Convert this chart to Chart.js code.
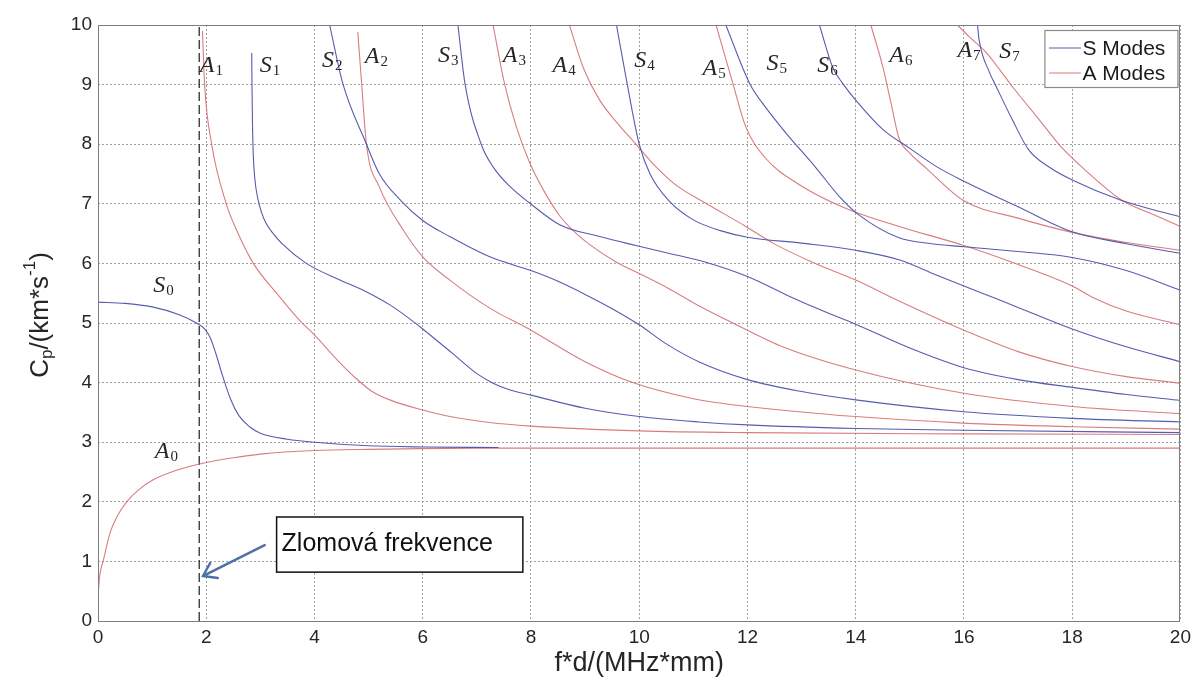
<!DOCTYPE html>
<html>
<head>
<meta charset="utf-8">
<script src="https://cdn.jsdelivr.net/npm/chart.js@4.4.1/dist/chart.umd.min.js"></script>
<style>
html,body{margin:0;padding:0;background:#ffffff;}
#wrap{width:1196px;height:684px;}
</style>
</head>
<body>
<div id="wrap"><canvas id="c" width="1196" height="684"></canvas></div>
<script>
// ---------- data (f*d in MHz*mm, phase velocity in km/s) ----------
const xTickStep = 2;
const yTickStep = 1;

const A0 = [[0,0.4],[0.03,0.75],[0.1,1.02],[0.22,1.47],[0.35,1.75],[0.53,2.0],[0.75,2.2],[1.02,2.37],[1.45,2.53],[2,2.66],[2.5,2.74],[3,2.8],[4,2.86],[5,2.88],[7,2.9],[20,2.9]];
const S0 = [[0,5.35],[0.5,5.33],[1,5.27],[1.5,5.14],[1.8,5.01],[1.97,4.9],[2.08,4.74],[2.18,4.48],[2.3,4.12],[2.45,3.72],[2.6,3.45],[2.8,3.26],[3,3.15],[3.5,3.05],[4,3.0],[5,2.94],[6,2.92],[7.4,2.91]];
const A1 = [[1.93,9.9],[1.97,9.0],[2.1,8.0],[2.37,7.0],[2.56,6.56],[2.87,6.0],[3.3,5.5],[3.72,5.05],[4.0,4.8],[4.4,4.4],[4.78,4.06],[5.05,3.86],[5.39,3.71],[6.0,3.54],[6.5,3.43],[7.23,3.33],[8,3.27],[10,3.19],[12,3.16],[16,3.14],[20,3.13]];
const S1 = [[2.84,9.53],[2.845,9.0],[2.855,8.3],[2.87,7.8],[2.9,7.4],[2.95,7.1],[3.02,6.86],[3.1,6.68],[3.22,6.52],[3.4,6.33],[3.85,6.0],[4.47,5.72],[4.9,5.55],[5.4,5.3],[5.76,5.07],[6.0,4.9],[6.55,4.49],[7.0,4.15],[7.3,3.99],[7.6,3.88],[8,3.79],[9,3.57],[10,3.43],[11.1,3.34],[12,3.29],[14,3.23],[16,3.2],[20,3.16]];
const A2 = [[4.8,9.88],[4.87,9.03],[4.96,8.0],[5.2,7.28],[5.64,6.56],[6.0,6.11],[6.5,5.72],[7.24,5.25],[8,4.88],[9,4.35],[9.88,4.0],[11,3.73],[12,3.6],[14,3.43],[16,3.32],[18,3.26],[20,3.22]];
const S2 = [[4.28,10],[4.52,9.03],[4.96,8.0],[5.2,7.5],[5.6,7.05],[6.0,6.72],[6.5,6.45],[7.24,6.11],[8,5.88],[8.5,5.7],[9,5.48],[9.5,5.24],[10,4.97],[10.5,4.65],[11.1,4.35],[12,4.05],[13,3.85],[14,3.71],[16,3.51],[18,3.4],[20,3.34]];
const A3 = [[7.3,10],[7.51,9.02],[7.73,8.29],[7.98,7.68],[8.25,7.2],[8.53,6.8],[8.77,6.56],[9.08,6.32],[9.58,6.02],[10,5.83],[10.5,5.6],[11.1,5.29],[11.73,5.0],[12.65,4.6],[14,4.21],[16,3.82],[18,3.6],[20,3.48]];
const S3 = [[6.65,10],[6.78,9.02],[7.08,8.0],[7.3,7.62],[7.6,7.3],[7.98,7.01],[8.53,6.65],[9.27,6.45],[9.94,6.3],[10.5,6.18],[11.23,6.02],[12,5.78],[12.77,5.45],[13.4,5.2],[14,4.98],[15,4.58],[16,4.25],[17,4.05],[18,3.92],[19,3.8],[20,3.7]];
const A4 = [[8.71,10],[8.96,9.3],[9.27,8.74],[9.6,8.35],[9.94,8.0],[10.31,7.62],[10.7,7.3],[11.23,7.01],[11.97,6.62],[12.47,6.34],[13.2,6.02],[14,5.72],[14.8,5.37],[16,4.88],[17,4.52],[18,4.27],[19,4.1],[20,3.99]];
const S4 = [[9.58,10],[9.78,9.0],[10.0,8.0],[10.2,7.5],[10.56,7.04],[11.0,6.73],[11.5,6.55],[12,6.44],[13,6.34],[14,6.22],[14.8,6.06],[15.5,5.8],[16,5.62],[16.65,5.39],[17.3,5.15],[18,4.9],[19,4.6],[20,4.35]];
const A5 = [[11.42,10],[11.73,9.02],[11.97,8.29],[12.34,7.76],[12.96,7.32],[13.8,6.93],[14.8,6.62],[16,6.3],[17,5.98],[18,5.62],[18.4,5.42],[19,5.2],[20,4.97]];
const S5 = [[11.6,10],[12.04,9.02],[12.35,8.6],[12.7,8.2],[13.27,7.6],[13.7,7.12],[14.02,6.84],[14.8,6.43],[15.4,6.33],[16,6.28],[17,6.2],[18,6.1],[19,5.88],[20,5.55]];
const A6 = [[14.28,10],[14.5,9.3],[14.65,8.7],[14.8,8.1],[15.0,7.85],[15.3,7.6],[16,7.05],[17,6.76],[18,6.52],[19,6.35],[20,6.22]];
const S6 = [[13.33,10],[13.57,9.3],[13.76,9.02],[14,8.74],[14.5,8.25],[15,7.93],[15.5,7.62],[16,7.38],[17,6.95],[18,6.53],[19,6.33],[20,6.17]];
const A7 = [[15.88,10],[16.1,9.8],[16.4,9.55],[16.9,8.96],[17.4,8.4],[17.8,7.95],[18.2,7.6],[18.92,7.06],[19.5,6.82],[20,6.62]];
const S7 = [[16.25,10],[16.28,9.75],[16.47,9.21],[16.6,8.96],[16.9,8.4],[17.2,7.9],[17.6,7.6],[18,7.4],[18.9,7.06],[19.5,6.9],[20,6.78]];

const sModes = [S0,S1,S2,S3,S4,S5,S6,S7];
const aModes = [A0,A1,A2,A3,A4,A5,A6,A7];

// cut-off frequency marker
const cutoffFreq = 1.87;

// mode labels: letter, index, f*d, Cp  (text anchor = baseline-left)
const modeLabelText = ['A','1','S','1','S','2','A','2','S','3','A','3','A','4','S','4','A','5','S','5','S','6','A','6','A','7','S','7','S','0','A','0'];
const modeLabelX = [1.88,2.99,4.14,4.93,6.28,7.48,8.40,9.91,11.17,12.35,13.29,14.62,15.88,16.65,1.02,1.05];
const modeLabelY = [9.21,9.21,9.30,9.36,9.38,9.38,9.21,9.30,9.16,9.24,9.21,9.38,9.46,9.45,5.52,2.73];

// annotation "Zlomová frekvence"
const noteText = 'Zlomová frekvence';
const noteBox = [3.30, 1.745, 7.85, 0.82];   // x1, y1, x2, y2
const noteArrow = [3.08, 1.275, 1.94, 0.755]; // from (x,y) to tip (x,y)

const legendNames = ['S Modes','A Modes'];

// ---------- styles ----------
const BLUE = 'rgba(72,78,168,0.92)';
const RED = 'rgba(214,110,112,0.9)';
const FONT = '"Liberation Sans", Arial, Helvetica, sans-serif';

function toPts(arr){ return arr.map(p => ({x:p[0], y:p[1]})); }

const datasets = [];
sModes.forEach((m,i) => datasets.push({label:'S'+i, data:toPts(m), borderColor:BLUE}));
aModes.forEach((m,i) => datasets.push({label:'A'+i, data:toPts(m), borderColor:RED}));
datasets.forEach(d => Object.assign(d, {showLine:true, pointRadius:0, borderWidth:1.1, cubicInterpolationMode:'monotone', fill:false}));
datasets.push({label:'cutoff', data:[{x:cutoffFreq,y:0},{x:cutoffFreq,y:10}], showLine:true, pointRadius:0, borderColor:'#1a1a1a', borderWidth:1.2, borderDash:[9,4]});

const overlay = {
  id:'overlay',
  afterDatasetsDraw(chart){
    const {ctx, chartArea:a, scales:{x,y}} = chart;
    ctx.save();
    // plot frame
    ctx.strokeStyle = '#7d7d7d'; ctx.lineWidth = 1;
    ctx.strokeRect(Math.round(a.left)+0.5, Math.round(a.top)+0.5, Math.round(a.right-a.left)-1, Math.round(a.bottom-a.top));

    // mode labels
    ctx.fillStyle = '#262626'; ctx.textBaseline = 'alphabetic'; ctx.textAlign = 'left';
    for (let i=0;i<modeLabelX.length;i++){
      const px = x.getPixelForValue(modeLabelX[i]);
      const py = y.getPixelForValue(modeLabelY[i]);
      ctx.font = 'italic 24px "Liberation Serif", "DejaVu Serif", serif';
      const L = modeLabelText[2*i];
      ctx.fillText(L, px, py);
      const w = ctx.measureText(L).width;
      ctx.font = '15px "Liberation Serif", "DejaVu Serif", serif';
      ctx.fillText(modeLabelText[2*i+1], px + w + 1, py + 3);
    }

    // annotation box
    const bx1 = x.getPixelForValue(noteBox[0]), by1 = y.getPixelForValue(noteBox[1]);
    const bx2 = x.getPixelForValue(noteBox[2]), by2 = y.getPixelForValue(noteBox[3]);
    ctx.fillStyle = '#ffffff';
    ctx.fillRect(bx1, by1, bx2-bx1, by2-by1);
    ctx.strokeStyle = '#111'; ctx.lineWidth = 1.5;
    ctx.strokeRect(bx1, by1, bx2-bx1, by2-by1);
    ctx.fillStyle = '#111'; ctx.font = '25px ' + FONT; ctx.textBaseline = 'middle';
    ctx.fillText(noteText, bx1 + 5, (by1+by2)/2);

    // arrow
    const ax1 = x.getPixelForValue(noteArrow[0]), ay1 = y.getPixelForValue(noteArrow[1]);
    const ax2 = x.getPixelForValue(noteArrow[2]), ay2 = y.getPixelForValue(noteArrow[3]);
    const ang = Math.atan2(ay2-ay1, ax2-ax1);
    ctx.strokeStyle = '#4f70a6'; ctx.lineWidth = 2.5; ctx.lineCap = 'round'; ctx.lineJoin = 'miter';
    ctx.beginPath(); ctx.moveTo(ax1, ay1); ctx.lineTo(ax2 - 2*Math.cos(ang), ay2 - 2*Math.sin(ang)); ctx.stroke();
    ctx.lineWidth = 2.4;
    ctx.beginPath();
    ctx.moveTo(ax2 - 15*Math.cos(ang-0.6), ay2 - 15*Math.sin(ang-0.6));
    ctx.lineTo(ax2, ay2);
    ctx.lineTo(ax2 - 15*Math.cos(ang+0.6), ay2 - 15*Math.sin(ang+0.6));
    ctx.stroke();

    // legend
    const lw = 133, lh = 57;
    const lx = a.right - 136, ly = a.top + 5;
    ctx.fillStyle = '#ffffff'; ctx.fillRect(lx, ly, lw, lh);
    ctx.strokeStyle = '#8a8a8a'; ctx.lineWidth = 1.2; ctx.strokeRect(lx+0.5, ly+0.5, lw, lh);
    const cols = [BLUE, RED];
    ctx.font = '21px ' + FONT; ctx.textBaseline = 'middle'; ctx.fillStyle = '#1a1a1a';
    for (let i=0;i<2;i++){
      const yy = ly + 18 + i*25;
      ctx.strokeStyle = cols[i]; ctx.lineWidth = 1.2;
      ctx.beginPath(); ctx.moveTo(lx+5, yy); ctx.lineTo(lx+36, yy); ctx.stroke();
      ctx.fillStyle = '#1a1a1a';
      ctx.fillText(legendNames[i], lx+38, yy+1);
    }

    // y axis title with subscript / superscript
    const cy = (a.top + a.bottom)/2 - 8;
    const cx = a.left - 57;
    ctx.translate(cx, cy);
    ctx.rotate(-Math.PI/2);
    const parts = [['C',26,0],['p',17,6],['/(km*s',26,0],['-1',17,-11],[')',26,0]];
    let total = 0;
    parts.forEach(p => { ctx.font = p[1]+'px '+FONT; total += ctx.measureText(p[0]).width; });
    let pos = -total/2;
    ctx.fillStyle = '#262626'; ctx.textBaseline = 'middle';
    parts.forEach(p => { ctx.font = p[1]+'px '+FONT; ctx.fillText(p[0], pos, p[2]); pos += ctx.measureText(p[0]).width; });
    ctx.restore();
  }
};

new Chart(document.getElementById('c'), {
  type:'scatter',
  data:{datasets},
  options:{
    responsive:false,
    animation:false,
    devicePixelRatio:1,
    layout:{padding:{top:25,right:15,left:0,bottom:0}},
    plugins:{legend:{display:false}, tooltip:{enabled:false}},
    scales:{
      x:{
        type:'linear', min:0, max:20,
        afterFit(s){ s.height = 63; },
        ticks:{stepSize:xTickStep, color:'#262626', font:{family:FONT, size:19}, padding:5, maxRotation:0},
        grid:{color:'#a0a0a0', lineWidth:1, drawTicks:false},
        border:{display:false, dash:[2,2]},
        title:{display:true, text:'f*d/(MHz*mm)', color:'#262626', font:{family:FONT, size:27}, padding:{top:0,bottom:4}}
      },
      y:{
        type:'linear', min:0, max:10,
        afterFit(s){ s.width = 98; },
        ticks:{stepSize:yTickStep, color:'#262626', font:{family:FONT, size:19}, padding:6},
        grid:{color:'#a0a0a0', lineWidth:1, drawTicks:false},
        border:{display:false, dash:[2,2]}
      }
    }
  },
  plugins:[overlay]
});
</script>
</body>
</html>
